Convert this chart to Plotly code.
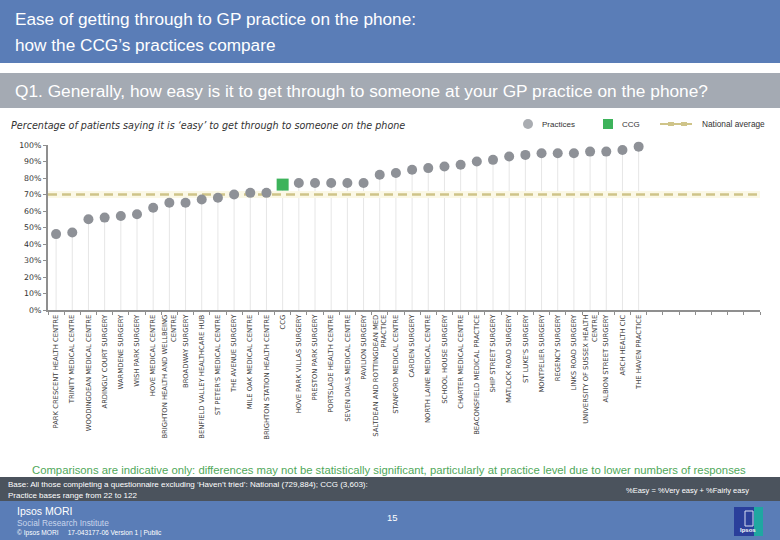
import plotly.graph_objects as go

# ---------------- data ----------------
categories = [
    "PARK CRESCENT HEALTH CENTRE", "TRINITY MEDICAL CENTRE", "WOODINGDEAN MEDICAL CENTRE",
    "ARDINGLY COURT SURGERY", "WARMDENE SURGERY", "WISH PARK SURGERY", "HOVE MEDICAL CENTRE",
    "BRIGHTON HEALTH AND WELLBEING<br>CENTRE", "BROADWAY SURGERY", "BENFIELD VALLEY HEALTHCARE HUB",
    "ST PETER'S MEDICAL CENTRE", "THE AVENUE SURGERY", "MILE OAK MEDICAL CENTRE",
    "BRIGHTON STATION HEALTH CENTRE", "CCG", "HOVE PARK VILLAS SURGERY", "PRESTON PARK SURGERY",
    "PORTSLADE HEALTH CENTRE", "SEVEN DIALS MEDICAL CENTRE", "PAVILION SURGERY",
    "SALTDEAN AND ROTTINGDEAN MED<br>PRACTICE", "STANFORD MEDICAL CENTRE", "CARDEN SURGERY",
    "NORTH LAINE MEDICAL CENTRE", "SCHOOL HOUSE SURGERY", "CHARTER MEDICAL CENTRE",
    "BEACONSFIELD MEDICAL PRACTICE", "SHIP STREET SURGERY", "MATLOCK ROAD SURGERY",
    "ST LUKE'S SURGERY", "MONTPELIER SURGERY", "REGENCY SURGERY", "LINKS ROAD SURGERY",
    "UNIVERSITY OF SUSSEX HEALTH<br>CENTRE", "ALBION STREET SURGERY", "ARCH HEALTH CIC",
    "THE HAVEN PRACTICE",
]
values = [46, 47, 55, 56, 57, 58, 62, 65, 65, 67, 68, 70, 71, 71, 76, 77, 77, 77, 77, 77,
          82, 83, 85, 86, 87, 88, 90, 91, 93, 94, 95, 95, 95, 96, 96, 97, 99]
ccg_name = "CCG"
national_average = 70
total_slots = 44  # axis has empty slots after the last practice
y_ticks = [0, 10, 20, 30, 40, 50, 60, 70, 80, 90, 100]
y_tick_labels = ["0%", "10%", "20%", "30%", "40%", "50%", "60%", "70%", "80%", "90%", "100%"]

# ---------------- geometry ----------------
W, H = 780, 540
L, R, T, B = 48, 20, 145, 230
PW, PH = W - L - R, H - T - B


def px(x):
    return (x - L) / PW


def py(y):
    return (H - B - y) / PH


idx = list(range(len(categories)))
prac_x = [i for i, c in zip(idx, categories) if c != ccg_name]
prac_y = [v for c, v in zip(categories, values) if c != ccg_name]
ccg_x = [i for i, c in zip(idx, categories) if c == ccg_name]
ccg_y = [v for c, v in zip(categories, values) if c == ccg_name]

stem_x, stem_y = [], []
for i, v in zip(idx, values):
    stem_x += [i, i, None]
    stem_y += [0, v, None]

FONT = "Liberation Sans, Arial, sans-serif"
WIDE = "DejaVu Sans, Liberation Sans, sans-serif"
GREY_MARK = "#8e9197"
GREEN = "#3db35b"
NAT = "#cfc489"

fig = go.Figure()
fig.add_trace(go.Scatter(x=stem_x, y=stem_y, mode="lines",
                         line=dict(color="#e6e6e6", width=1), hoverinfo="skip", showlegend=False))
xr = [-0.5, total_slots - 0.5]
fig.add_trace(go.Scatter(x=xr, y=[national_average] * 2, mode="lines",
                         line=dict(color="#fbf8e6", width=7), hoverinfo="skip", showlegend=False))
fig.add_trace(go.Scatter(x=xr, y=[national_average] * 2, mode="lines",
                         line=dict(color=NAT, width=2.5, dash="9px,5px"), showlegend=False))
fig.add_trace(go.Scatter(x=prac_x, y=prac_y, mode="markers", cliponaxis=False,
                         marker=dict(color=GREY_MARK, size=10, symbol="circle"), showlegend=False))
fig.add_trace(go.Scatter(x=ccg_x, y=ccg_y, mode="markers", cliponaxis=False,
                         marker=dict(color=GREEN, size=12, symbol="square"), showlegend=False))

shapes = []
ann = []

# title banner
shapes.append(dict(type="rect", xref="paper", yref="paper", x0=px(0), x1=px(W), y0=py(63), y1=py(0),
                   fillcolor="#5a7db7", line=dict(width=0), layer="below"))
ann.append(dict(text="Ease of getting through to GP practice on the phone:", x=px(13), y=py(19),
                font=dict(family=FONT, size=17.2, color="white")))
ann.append(dict(text="how the CCG\u2019s practices compare", x=px(13), y=py(45),
                font=dict(family=FONT, size=17.2, color="white")))
# question banner
shapes.append(dict(type="rect", xref="paper", yref="paper", x0=px(0), x1=px(W), y0=py(108), y1=py(73),
                   fillcolor="#a4aab3", line=dict(width=0), layer="below"))
ann.append(dict(text="Q1. Generally, how easy is it to get through to someone at your GP practice on the phone?",
                x=px(13), y=py(91), font=dict(family=FONT, size=17.3, color="white")))
# subtitle
ann.append(dict(text="<i>Percentage of patients saying it is \u2018easy\u2019 to get through to someone on the phone</i>",
                x=px(9), y=py(125), font=dict(family=WIDE, size=9.6, color="#333333")))
# legend
shapes.append(dict(type="circle", xref="paper", yref="paper", x0=px(523), x1=px(533), y0=py(129), y1=py(119),
                   fillcolor="#a9acb1", line=dict(width=0)))
ann.append(dict(text="Practices", x=px(540), y=py(124), font=dict(family=FONT, size=8, color="#333333")))
shapes.append(dict(type="rect", xref="paper", yref="paper", x0=px(603), x1=px(613), y0=py(129), y1=py(119),
                   fillcolor=GREEN, line=dict(width=0)))
ann.append(dict(text="CCG", x=px(620), y=py(124), font=dict(family=FONT, size=8, color="#333333")))
shapes.append(dict(type="line", xref="paper", yref="paper", x0=px(660), x1=px(692), y0=py(124), y1=py(124),
                   line=dict(color=NAT, width=2)))
for cx in (671, 684):
    shapes.append(dict(type="rect", xref="paper", yref="paper", x0=px(cx - 3), x1=px(cx + 3),
                       y0=py(126), y1=py(122), fillcolor=NAT, line=dict(width=0)))
ann.append(dict(text="National average", x=px(700), y=py(124), font=dict(family=FONT, size=8.3, color="#333333")))

# note
ann.append(dict(text="Comparisons are indicative only: differences may not be statistically significant, particularly at practice level due to lower numbers of responses",
                x=px(389), y=py(470), xanchor="center", font=dict(family=FONT, size=11.3, color="#4fa85a")))
# base band
shapes.append(dict(type="rect", xref="paper", yref="paper", x0=px(0), x1=px(W), y0=py(501), y1=py(477),
                   fillcolor="#4b535d", line=dict(width=0), layer="below"))
ann.append(dict(text="Base: All those completing a questionnaire excluding \u2018Haven\u2019t tried\u2019: National (729,884); CCG (3,603):",
                x=px(6), y=py(484), font=dict(family=FONT, size=8, color="white")))
ann.append(dict(text="Practice bases range from 22 to 122", x=px(6), y=py(495),
                font=dict(family=FONT, size=8, color="white")))
ann.append(dict(text="%Easy = %Very easy + %Fairly easy", x=px(751), y=py(491), xanchor="right",
                font=dict(family=FONT, size=7.5, color="white")))
# footer
shapes.append(dict(type="rect", xref="paper", yref="paper", x0=px(0), x1=px(W), y0=py(540), y1=py(501),
                   fillcolor="#5a7db7", line=dict(width=0), layer="below"))
ann.append(dict(text="Ipsos MORI", x=px(15), y=py(511), font=dict(family=FONT, size=10.5, color="white")))
ann.append(dict(text="Social Research Institute", x=px(15), y=py(523), font=dict(family=FONT, size=8.3, color="#c9d5ec")))
ann.append(dict(text="\u00a9 Ipsos MORI&nbsp;&nbsp;&nbsp;&nbsp;&nbsp;17-043177-06 Version 1 | Public", x=px(15), y=py(533),
                font=dict(family=FONT, size=6.6, color="white")))
ann.append(dict(text="15", x=px(392), y=py(517), xanchor="center", font=dict(family=FONT, size=9.5, color="white")))
# logo
shapes.append(dict(type="rect", xref="paper", yref="paper", x0=px(734), x1=px(763), y0=py(536), y1=py(507),
                   fillcolor="#2a3f9b", line=dict(width=0)))
shapes.append(dict(type="rect", xref="paper", yref="paper", x0=px(754), x1=px(763), y0=py(536), y1=py(507),
                   fillcolor="#1fa7a1", line=dict(width=0)))
shapes.append(dict(type="rect", xref="paper", yref="paper", x0=px(745), x1=px(753), y0=py(526), y1=py(511),
                   fillcolor="#2a3f9b", line=dict(color="#d8def2", width=1)))
ann.append(dict(text="<b>Ipsos</b>", x=px(748), y=py(530), xanchor="center", font=dict(family=FONT, size=6, color="white")))

for a in ann:
    a.setdefault("xanchor", "left")
    a["yanchor"] = "middle"
    a["xref"] = "paper"
    a["yref"] = "paper"
    a["showarrow"] = False

fig.update_layout(
    width=W, height=H,
    margin=dict(l=L, r=R, t=T, b=B, pad=0),
    paper_bgcolor="white", plot_bgcolor="white",
    shapes=shapes, annotations=ann, showlegend=False,
    xaxis=dict(range=xr, tickmode="array", tickvals=idx, ticktext=categories, tickangle=-90,
               tickfont=dict(family=WIDE, size=6.8, color="#3a3a3a"), ticks="", showgrid=False,
               zeroline=False, showline=True, linecolor="#8f8f8f", linewidth=2, automargin=False,
               minor=dict(tickmode="linear", tick0=-0.5, dtick=1, ticks="outside", ticklen=3,
                          tickcolor="#8f8f8f", tickwidth=1, showgrid=False)),
    yaxis=dict(range=[0, 100], tickmode="array", tickvals=y_ticks, ticktext=y_tick_labels,
               tickfont=dict(family=WIDE, size=7.8, color="#333333"), ticks="outside", ticklen=3,
               tickcolor="#8f8f8f", showgrid=False, zeroline=False, showline=True, automargin=False,
               linecolor="#8f8f8f", linewidth=2),
)

fig.write_html("out.html", config={"displayModeBar": False},
               post_script="document.body.style.margin='0px';document.body.style.overflow='hidden';")
